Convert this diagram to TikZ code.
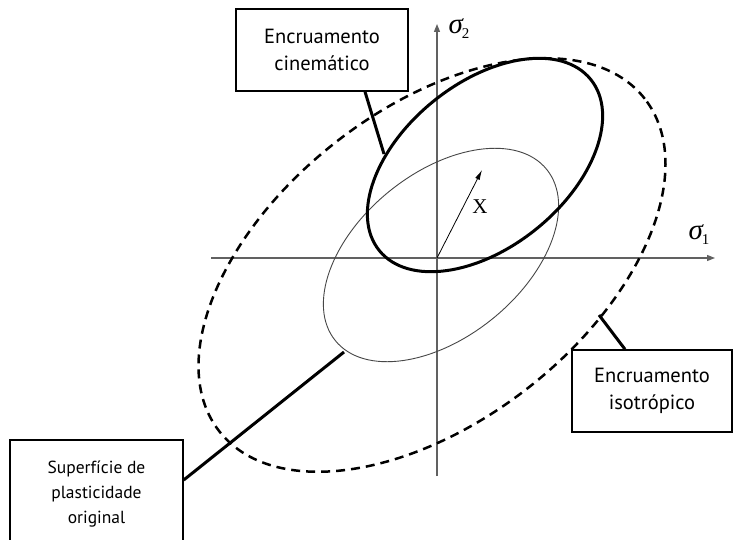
\documentclass[tikz,border=0pt]{standalone}
\usepackage{fontspec}
\setmainfont{PT Sans}
\newfontfamily\serifL{Liberation Serif}
\usetikzlibrary{arrows.meta}
\begin{document}
\begin{tikzpicture}[x=1pt,y=-1pt,
  axis/.style={draw=black!62, line width=1.3pt, -{Triangle[length=8pt,width=6pt]}},
  orig/.style={draw=black!72, line width=0.9pt},
  kin/.style={draw=black, line width=3pt},
  iso/.style={draw=black, line width=2.5pt, dash pattern=on 9pt off 6pt},
  lead/.style={draw=black, line width=3pt},
  labelbox/.style={draw=black, line width=1.4pt, fill=white, align=center, inner sep=0pt},
  ]
\useasboundingbox (0,0) rectangle (733,540);
\fill[white] (0,0) rectangle (733,540);

% axes
\coordinate (O) at (437,258);
\coordinate (xs) at (211,258);
\coordinate (xe) at (715,258);
\coordinate (ys) at (437,476);
\coordinate (ye) at (437,24);
\draw[axis] (xs) -- (xe);
\draw[axis] (ys) -- (ye);

% original yield surface
\draw[orig, rotate around={39:(441,255)}] (441,255) ellipse [x radius=136pt, y radius=82pt];
% kinematic hardening
\draw[kin, rotate around={39:(485,165)}] (485,165) ellipse [x radius=136pt, y radius=82pt];
% isotropic hardening
\draw[iso, rotate around={38:(432,265)}] (432,265) ellipse [x radius=270pt, y radius=156pt];

% back-stress vector
\coordinate (xtip) at (482,170);
\draw[line width=0.8pt, -{Latex[length=10pt,width=5pt]}] (O) -- (xtip);
\node (xl) at (480,207) {\serifL\fontsize{21}{21}\selectfont X};

% axis labels
\node (s1) at (699,235) {\serifL\fontsize{29}{29}\selectfont\itshape σ\kern-1pt\raisebox{-5pt}{\fontsize{15}{15}\selectfont\upshape 1}};
\node (s2) at (459,29) {\serifL\fontsize{29}{29}\selectfont\itshape σ\kern-1pt\raisebox{-5pt}{\fontsize{15}{15}\selectfont\upshape 2}};

% label boxes
\node[labelbox, minimum width=172pt, minimum height=82pt, font=\fontsize{20.5}{27}\selectfont] (kbox) at (322,50) {Encruamento\\cinemático};
\node[labelbox, minimum width=160pt, minimum height=82pt, font=\fontsize{20.5}{27}\selectfont] (ibox) at (652,391) {Encruamento\\isotrópico};
\node[labelbox, minimum width=173pt, minimum height=108pt, font=\fontsize{17.5}{25}\selectfont] (obox) at (96.5,494) {Superfície de\\plasticidade\\original};

% leaders
\coordinate (kp) at (384,154);
\draw[lead] ([xshift=43pt]kbox.south) -- (kp);
\coordinate (ip) at (599,315);
\draw[lead] ([xshift=-27pt]ibox.north) -- (ip);
\coordinate (op) at (344,352);
\draw[lead] ([yshift=14pt]obox.east) -- (op);
\end{tikzpicture}
\end{document}
